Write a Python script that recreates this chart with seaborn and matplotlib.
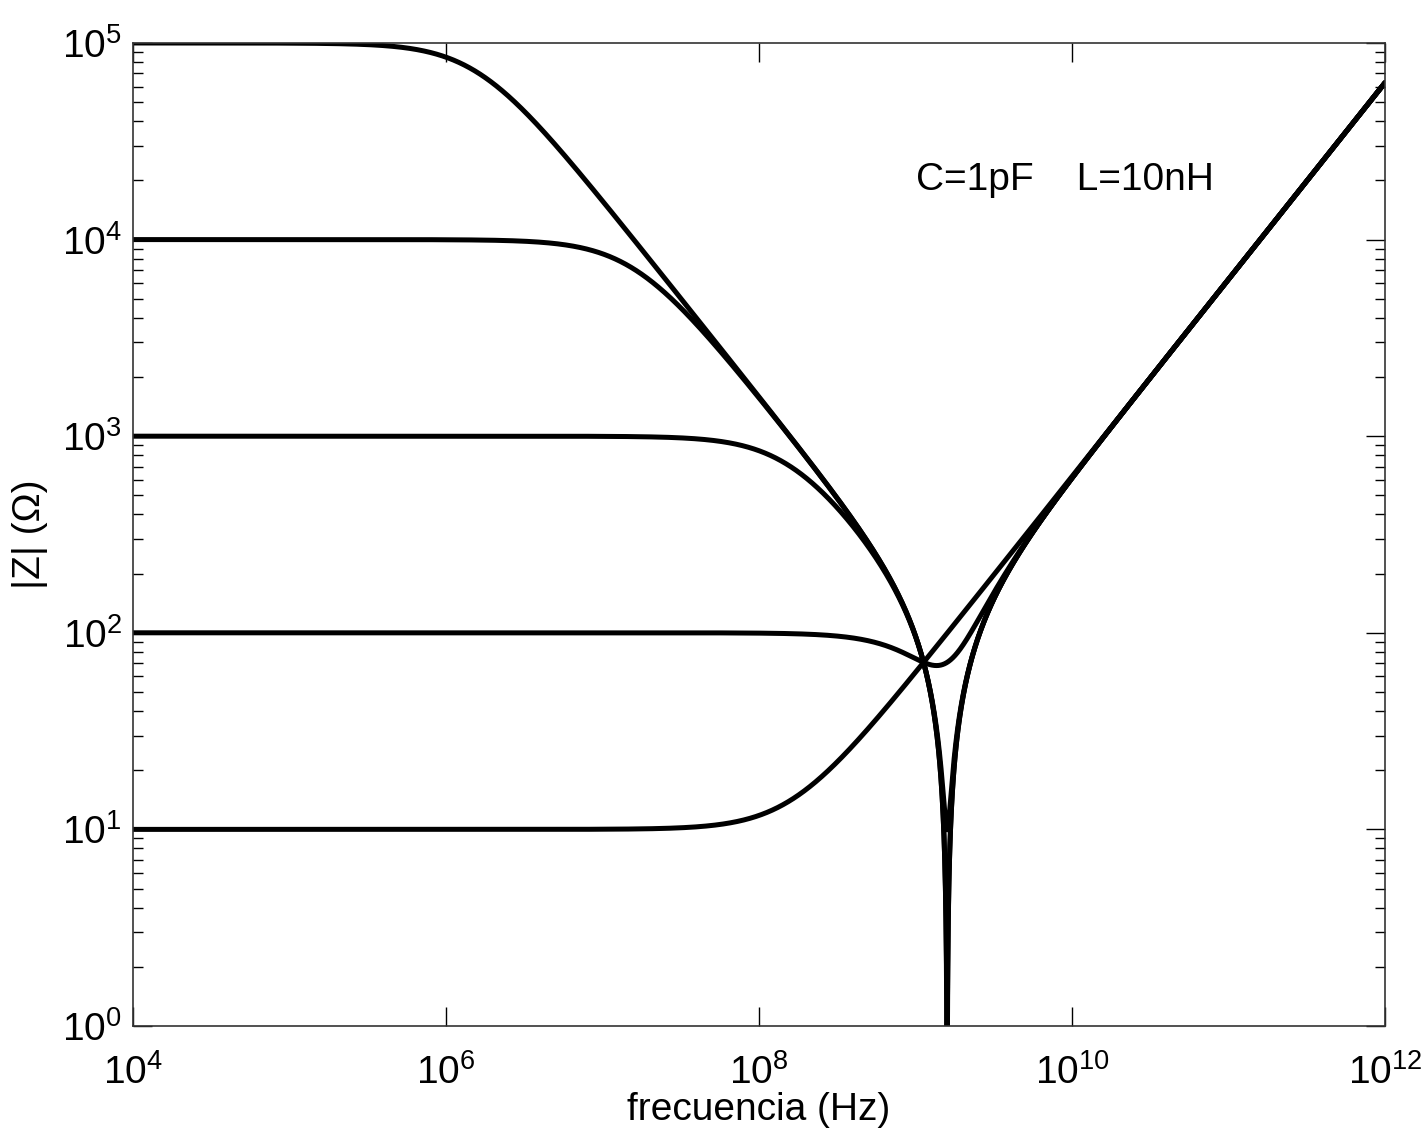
import numpy as np
import pandas as pd
import matplotlib
matplotlib.use('Agg')
import matplotlib.pyplot as plt
import matplotlib.ticker as mticker
import seaborn as sns

# ── Circuit values (from the annotation) ───────────────────
R_values = [10, 100, 1e3, 1e4, 1e5]     # ohms, one curve each
C = 1e-12                               # 1 pF
L = 10e-9                               # 10 nH
freq = np.logspace(4, 12, 40000)        # Hz

# |Z| of L in series with (R || C)
rows = []
for R in R_values:
    w = 2 * np.pi * freq
    z = 1j * w * L + R / (1 + 1j * w * R * C)
    rows.append(pd.DataFrame({'f': freq, 'Z': np.abs(z), 'R': R}))
df = pd.concat(rows, ignore_index=True)

x_ticks = [1e4, 1e6, 1e8, 1e10, 1e12]
y_ticks = [1e0, 1e1, 1e2, 1e3, 1e4, 1e5]

# ── Plot ───────────────────────────────────────────────────
sns.set_style('ticks')
plt.rcParams['font.family'] = ['Liberation Sans', 'DejaVu Sans']
plt.rcParams['mathtext.fontset'] = 'custom'
plt.rcParams['mathtext.rm'] = 'Liberation Sans'
plt.rcParams['mathtext.it'] = 'Liberation Sans'
plt.rcParams['text.color'] = 'black'
plt.rcParams['axes.labelcolor'] = 'black'

fig = plt.figure(figsize=(14.27, 11.40), dpi=100)
ax = fig.add_axes([0.0932, 0.1, 0.8774, 0.8623])

sns.lineplot(data=df, x='f', y='Z', hue='R', palette=['black'] * len(R_values),
             estimator=None, sort=False, legend=False, linewidth=3.6, ax=ax)

ax.set_xscale('log')
ax.set_yscale('log')
ax.set_xlim(1e4, 1e12)
ax.set_ylim(1e0, 1e5)

fmt = mticker.FuncFormatter(lambda v, p: r'$10^{%d}$' % round(np.log10(v)))
ax.xaxis.set_major_locator(mticker.FixedLocator(x_ticks))
ax.xaxis.set_minor_locator(mticker.NullLocator())
ax.yaxis.set_major_locator(mticker.FixedLocator(y_ticks))
ax.yaxis.set_minor_locator(mticker.LogLocator(base=10, subs=np.arange(2, 10)))
ax.xaxis.set_major_formatter(fmt)
ax.yaxis.set_major_formatter(fmt)
ax.yaxis.set_minor_formatter(mticker.NullFormatter())

ax.tick_params(which='both', direction='in', top=True, right=True, colors='black',
               labelsize=28, width=1)
ax.tick_params(which='major', length=14)
ax.tick_params(axis='x', which='major', pad=20)
ax.tick_params(axis='y', which='major', pad=8)
ax.tick_params(which='minor', length=7)
for s in ax.spines.values():
    s.set_visible(True)
    s.set_linewidth(1.2)
    s.set_color('#333333')

ax.set_xlabel('frecuencia (Hz)', fontsize=28, labelpad=0)
ax.set_ylabel('|Z| (Ω)', fontsize=28, labelpad=10)
ax.text(1e9, 2e4, 'C=1pF    L=10nH', fontsize=28, va='center', ha='left')

plt.savefig('out.png', dpi=100)
